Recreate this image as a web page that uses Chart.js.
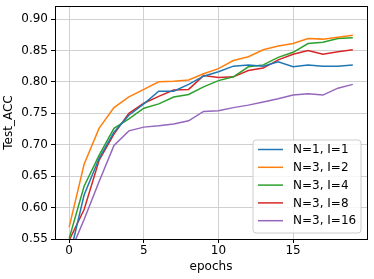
<!DOCTYPE html>
<html>
<head>
<meta charset="utf-8">
<script src="https://cdn.jsdelivr.net/npm/chart.js@4.4.0/dist/chart.umd.min.js"></script>
<style>
  body { margin: 0; background: #fff; }
  canvas { display: block; }
</style>
</head>
<body>
<canvas id="accChart" width="374" height="279"></canvas>
<script>
// epochs and test accuracy per run
const epochs = [0, 1, 2, 3, 4, 5, 6, 7, 8, 9, 10, 11, 12, 13, 14, 15, 16, 17, 18, 19];
const accN1I1 = [0.520, 0.620, 0.678, 0.720, 0.747, 0.765, 0.785, 0.785, 0.796, 0.809, 0.816, 0.825, 0.827, 0.825, 0.832, 0.824, 0.827, 0.825, 0.825, 0.827];
const accN3I2 = [0.569, 0.669, 0.726, 0.759, 0.776, 0.788, 0.800, 0.801, 0.803, 0.813, 0.821, 0.834, 0.840, 0.851, 0.857, 0.861, 0.869, 0.868, 0.871, 0.874];
const accN3I4 = [0.551, 0.634, 0.683, 0.726, 0.741, 0.758, 0.765, 0.776, 0.780, 0.792, 0.802, 0.808, 0.824, 0.827, 0.839, 0.847, 0.861, 0.863, 0.869, 0.870];
const accN3I8 = [0.548, 0.597, 0.675, 0.717, 0.750, 0.766, 0.777, 0.787, 0.788, 0.810, 0.807, 0.808, 0.818, 0.822, 0.835, 0.844, 0.850, 0.844, 0.848, 0.851];
const accN3I16 = [0.525, 0.581, 0.641, 0.699, 0.722, 0.728, 0.730, 0.733, 0.738, 0.753, 0.754, 0.759, 0.763, 0.768, 0.773, 0.779, 0.781, 0.779, 0.790, 0.796];

const seriesLabels = ['N=1, I=1', 'N=3, I=2', 'N=3, I=4', 'N=3, I=8', 'N=3, I=16'];
const xTicks = [0, 5, 10, 15];
const yTicks = [0.55, 0.60, 0.65, 0.70, 0.75, 0.80, 0.85, 0.90];

const colors = ['#1f77b4', '#ff7f0e', '#2ca02c', '#d62728', '#9467bd'];
const FONT = 'DejaVu Sans';

const series = [accN1I1, accN3I2, accN3I4, accN3I8, accN3I16];
const datasets = series.map((vals, i) => ({
    label: seriesLabels[i],
    data: epochs.map((e, j) => ({ x: e, y: vals[j] })),
    borderColor: colors[i],
    backgroundColor: colors[i],
    borderWidth: 1.5,
    pointRadius: 0,
    tension: 0,
    clip: 0
}));

// frame on all four sides + matplotlib style legend
const framePlugin = {
    id: 'frame',
    afterDraw(chart) {
        const { ctx, chartArea: a } = chart;
        ctx.save();
        ctx.strokeStyle = '#000';
        ctx.lineWidth = 1;
        ctx.strokeRect(Math.round(a.left) + 0.5, Math.round(a.top) + 0.5,
            Math.round(a.right - a.left), Math.round(a.bottom - a.top));

        // legend box
        const bx = 253, by = 140, bw = 108, bh = 93, r = 3;
        ctx.beginPath();
        ctx.moveTo(bx + r, by);
        ctx.arcTo(bx + bw, by, bx + bw, by + bh, r);
        ctx.arcTo(bx + bw, by + bh, bx, by + bh, r);
        ctx.arcTo(bx, by + bh, bx, by, r);
        ctx.arcTo(bx, by, bx + bw, by, r);
        ctx.closePath();
        ctx.fillStyle = 'rgba(255,255,255,0.8)';
        ctx.fill();
        ctx.strokeStyle = '#cccccc';
        ctx.stroke();

        ctx.font = '12px "' + FONT + '"';
        ctx.textBaseline = 'middle';
        ctx.textAlign = 'left';
        chart.data.datasets.forEach((ds, i) => {
            const y = 149.5 + i * 17.8;
            ctx.strokeStyle = ds.borderColor;
            ctx.lineWidth = 1.5;
            ctx.beginPath();
            ctx.moveTo(258, y);
            ctx.lineTo(283, y);
            ctx.stroke();
            ctx.fillStyle = '#000';
            ctx.fillText(ds.label, 293, y + 0.5);
        });
        ctx.restore();
    }
};

const ctxAcc = document.getElementById('accChart').getContext('2d');
const accChart = new Chart(ctxAcc, {
    type: 'line',
    data: { datasets: datasets },
    plugins: [framePlugin],
    options: {
        responsive: false,
        animation: false,
        devicePixelRatio: 1,
        layout: { padding: { left: 0, right: 7, top: 6, bottom: 0 } },
        plugins: {
            legend: { display: false },
            tooltip: { enabled: false }
        },
        scales: {
            x: {
                type: 'linear',
                min: -0.95,
                max: 19.95,
                afterBuildTicks: s => { s.ticks = xTicks.map(v => ({ value: v })); },
                afterFit: s => { s.height = 40; s.paddingLeft = 0; s.paddingRight = 0; },
                ticks: {
                    color: '#000',
                    font: { family: FONT, size: 12 },
                    padding: 1,
                    maxRotation: 0,
                    callback: v => String(v)
                },
                grid: { color: '#d0d0d0', tickColor: '#000', tickLength: 4, lineWidth: 1 },
                border: { display: false },
                title: {
                    display: true,
                    text: 'epochs',
                    color: '#000',
                    font: { family: FONT, size: 12 },
                    padding: { top: 0, bottom: 5 }
                }
            },
            y: {
                min: 0.55,
                max: 0.9207,
                afterBuildTicks: s => { s.ticks = yTicks.map(v => ({ value: v })); },
                afterFit: s => { s.width = 55; s.paddingTop = 0; s.paddingBottom = 0; },
                ticks: {
                    color: '#000',
                    font: { family: FONT, size: 12 },
                    padding: 3,
                    callback: v => v.toFixed(2)
                },
                grid: { color: '#d0d0d0', tickColor: '#000', tickLength: 4, lineWidth: 1 },
                border: { display: false },
                title: {
                    display: true,
                    text: 'Test_ACC',
                    color: '#000',
                    font: { family: FONT, size: 12 },
                    padding: { top: 2, bottom: 0 }
                }
            }
        }
    }
});
</script>
</body>
</html>
